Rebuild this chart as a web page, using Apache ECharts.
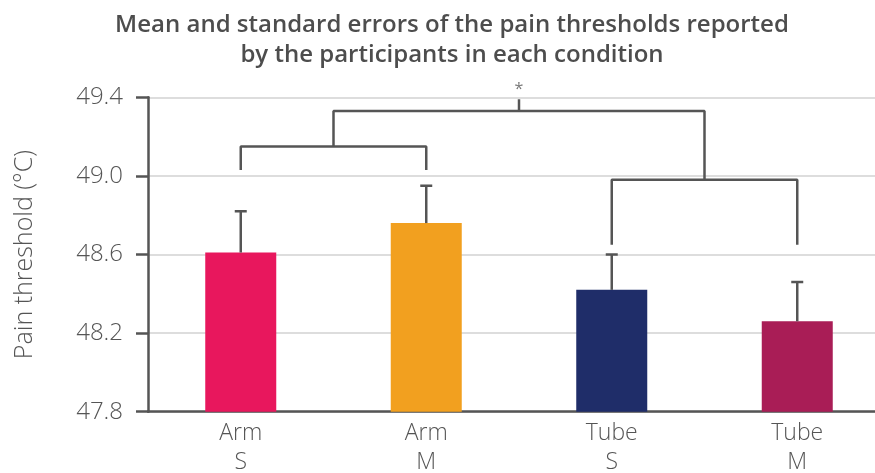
<!DOCTYPE html>
<html>
<head>
<meta charset="utf-8">
<script src="https://cdn.jsdelivr.net/npm/echarts@6/dist/echarts.min.js"></script>
<style>
    html, body { margin: 0; padding: 0; background: #fff; }
    #main { width: 875px; height: 473px; }
</style>
</head>
<body>
<div id="main"></div>
<script>
// data
var categories = ['Arm\nS', 'Arm\nM', 'Tube\nS', 'Tube\nM'];
var barColors = ['#e8175d', '#f2a01f', '#1f2d69', '#a91d56'];
var means = [48.61, 48.76, 48.42, 48.26];
var upperErrors = [48.82, 48.95, 48.60, 48.46];
var yTicks = [47.8, 48.2, 48.6, 49.0, 49.4];

// significance brackets, x in category index units
var bracketArms = [[0, 49.03], [0, 49.15], [1, 49.15], [1, 49.03]];
var bracketTubes = [[2, 48.65], [2, 48.98], [3, 48.98], [3, 48.65]];
var bracketTop = [[0.5, 49.15], [0.5, 49.33], [2.5, 49.33], [2.5, 48.98]];
var starTick = [[1.5, 49.33], [1.5, 49.39]];
var starLabel = '*';

var chart = echarts.init(document.getElementById('main'));
var axisColor = '#555';
var fontFamily = '"Open Sans", "Noto Sans", sans-serif';

function bracketSeries(points) {
    return {
        type: 'line',
        xAxisIndex: 1,
        data: points,
        symbol: 'none',
        silent: true,
        z: 5,
        lineStyle: { color: axisColor, width: 2.5 }
    };
}

var option = {
    animation: false,
    title: {
        text: 'Mean and standard errors of the pain thresholds reported\nby the participants in each condition',
        left: 447,
        top: 5,
        textAlign: 'center',
        textStyle: {
            fontFamily: fontFamily,
            fontSize: 24,
            fontWeight: 600,
            color: '#4d4d4d',
            lineHeight: 30
        }
    },
    grid: {
        left: 148,
        top: 97.3,
        width: 742,
        height: 314.4,
        containLabel: false,
        outerBoundsMode: 'none'
    },
    xAxis: [{
        type: 'category',
        data: categories,
        axisLine: { lineStyle: { color: axisColor, width: 2.5 } },
        axisTick: { show: false },
        axisLabel: {
            color: '#555',
            fontFamily: fontFamily,
            fontSize: 23,
            fontWeight: 300,
            lineHeight: 29,
            margin: 7
        }
    }, {
        type: 'value',
        min: -0.5,
        max: 3.5,
        show: false
    }],
    yAxis: {
        type: 'value',
        min: yTicks[0],
        max: yTicks[yTicks.length - 1],
        interval: 0.4,
        name: 'Pain threshold (°C)',
        nameLocation: 'middle',
        nameGap: 111,
        nameTextStyle: {
            fontFamily: fontFamily,
            fontSize: 25,
            fontWeight: 300,
            color: '#555'
        },
        axisLine: { show: true, onZero: false, lineStyle: { color: axisColor, width: 2.5 } },
        axisTick: { show: true, length: 12, lineStyle: { color: axisColor, width: 2.5 } },
        axisLabel: {
            margin: 25,
            color: '#555',
            fontFamily: fontFamily,
            fontSize: 24,
            fontWeight: 300,
            formatter: function (v) { return v.toFixed(1); }
        },
        splitLine: { lineStyle: { color: '#dddddd', width: 2 } }
    },
    series: [
        {
            type: 'bar',
            barWidth: 71,
            data: means.map(function (v, i) {
                return { value: v, itemStyle: { color: barColors[i] } };
            }),
            z: 2
        },
        {
            type: 'custom',
            data: upperErrors.map(function (v, i) { return [i, means[i], v]; }),
            z: 4,
            renderItem: function (params, api) {
                var base = api.coord([api.value(0), api.value(1)]);
                var top = api.coord([api.value(0), api.value(2)]);
                var style = { stroke: axisColor, lineWidth: 2.5 };
                return {
                    type: 'group',
                    children: [
                        { type: 'line', shape: { x1: base[0], y1: base[1], x2: top[0], y2: top[1] }, style: style },
                        { type: 'line', shape: { x1: top[0] - 6, y1: top[1], x2: top[0] + 6, y2: top[1] }, style: style }
                    ]
                };
            }
        },
        bracketSeries(bracketArms),
        bracketSeries(bracketTubes),
        bracketSeries(bracketTop),
        bracketSeries(starTick),
        {
            type: 'scatter',
            xAxisIndex: 1,
            symbolSize: 0,
            silent: true,
            data: [starTick[1]],
            label: {
                show: true,
                formatter: starLabel,
                position: 'top',
                distance: 2,
                color: '#555',
                fontFamily: fontFamily,
                fontSize: 16
            }
        }
    ]
};

chart.setOption(option);
</script>
</body>
</html>
